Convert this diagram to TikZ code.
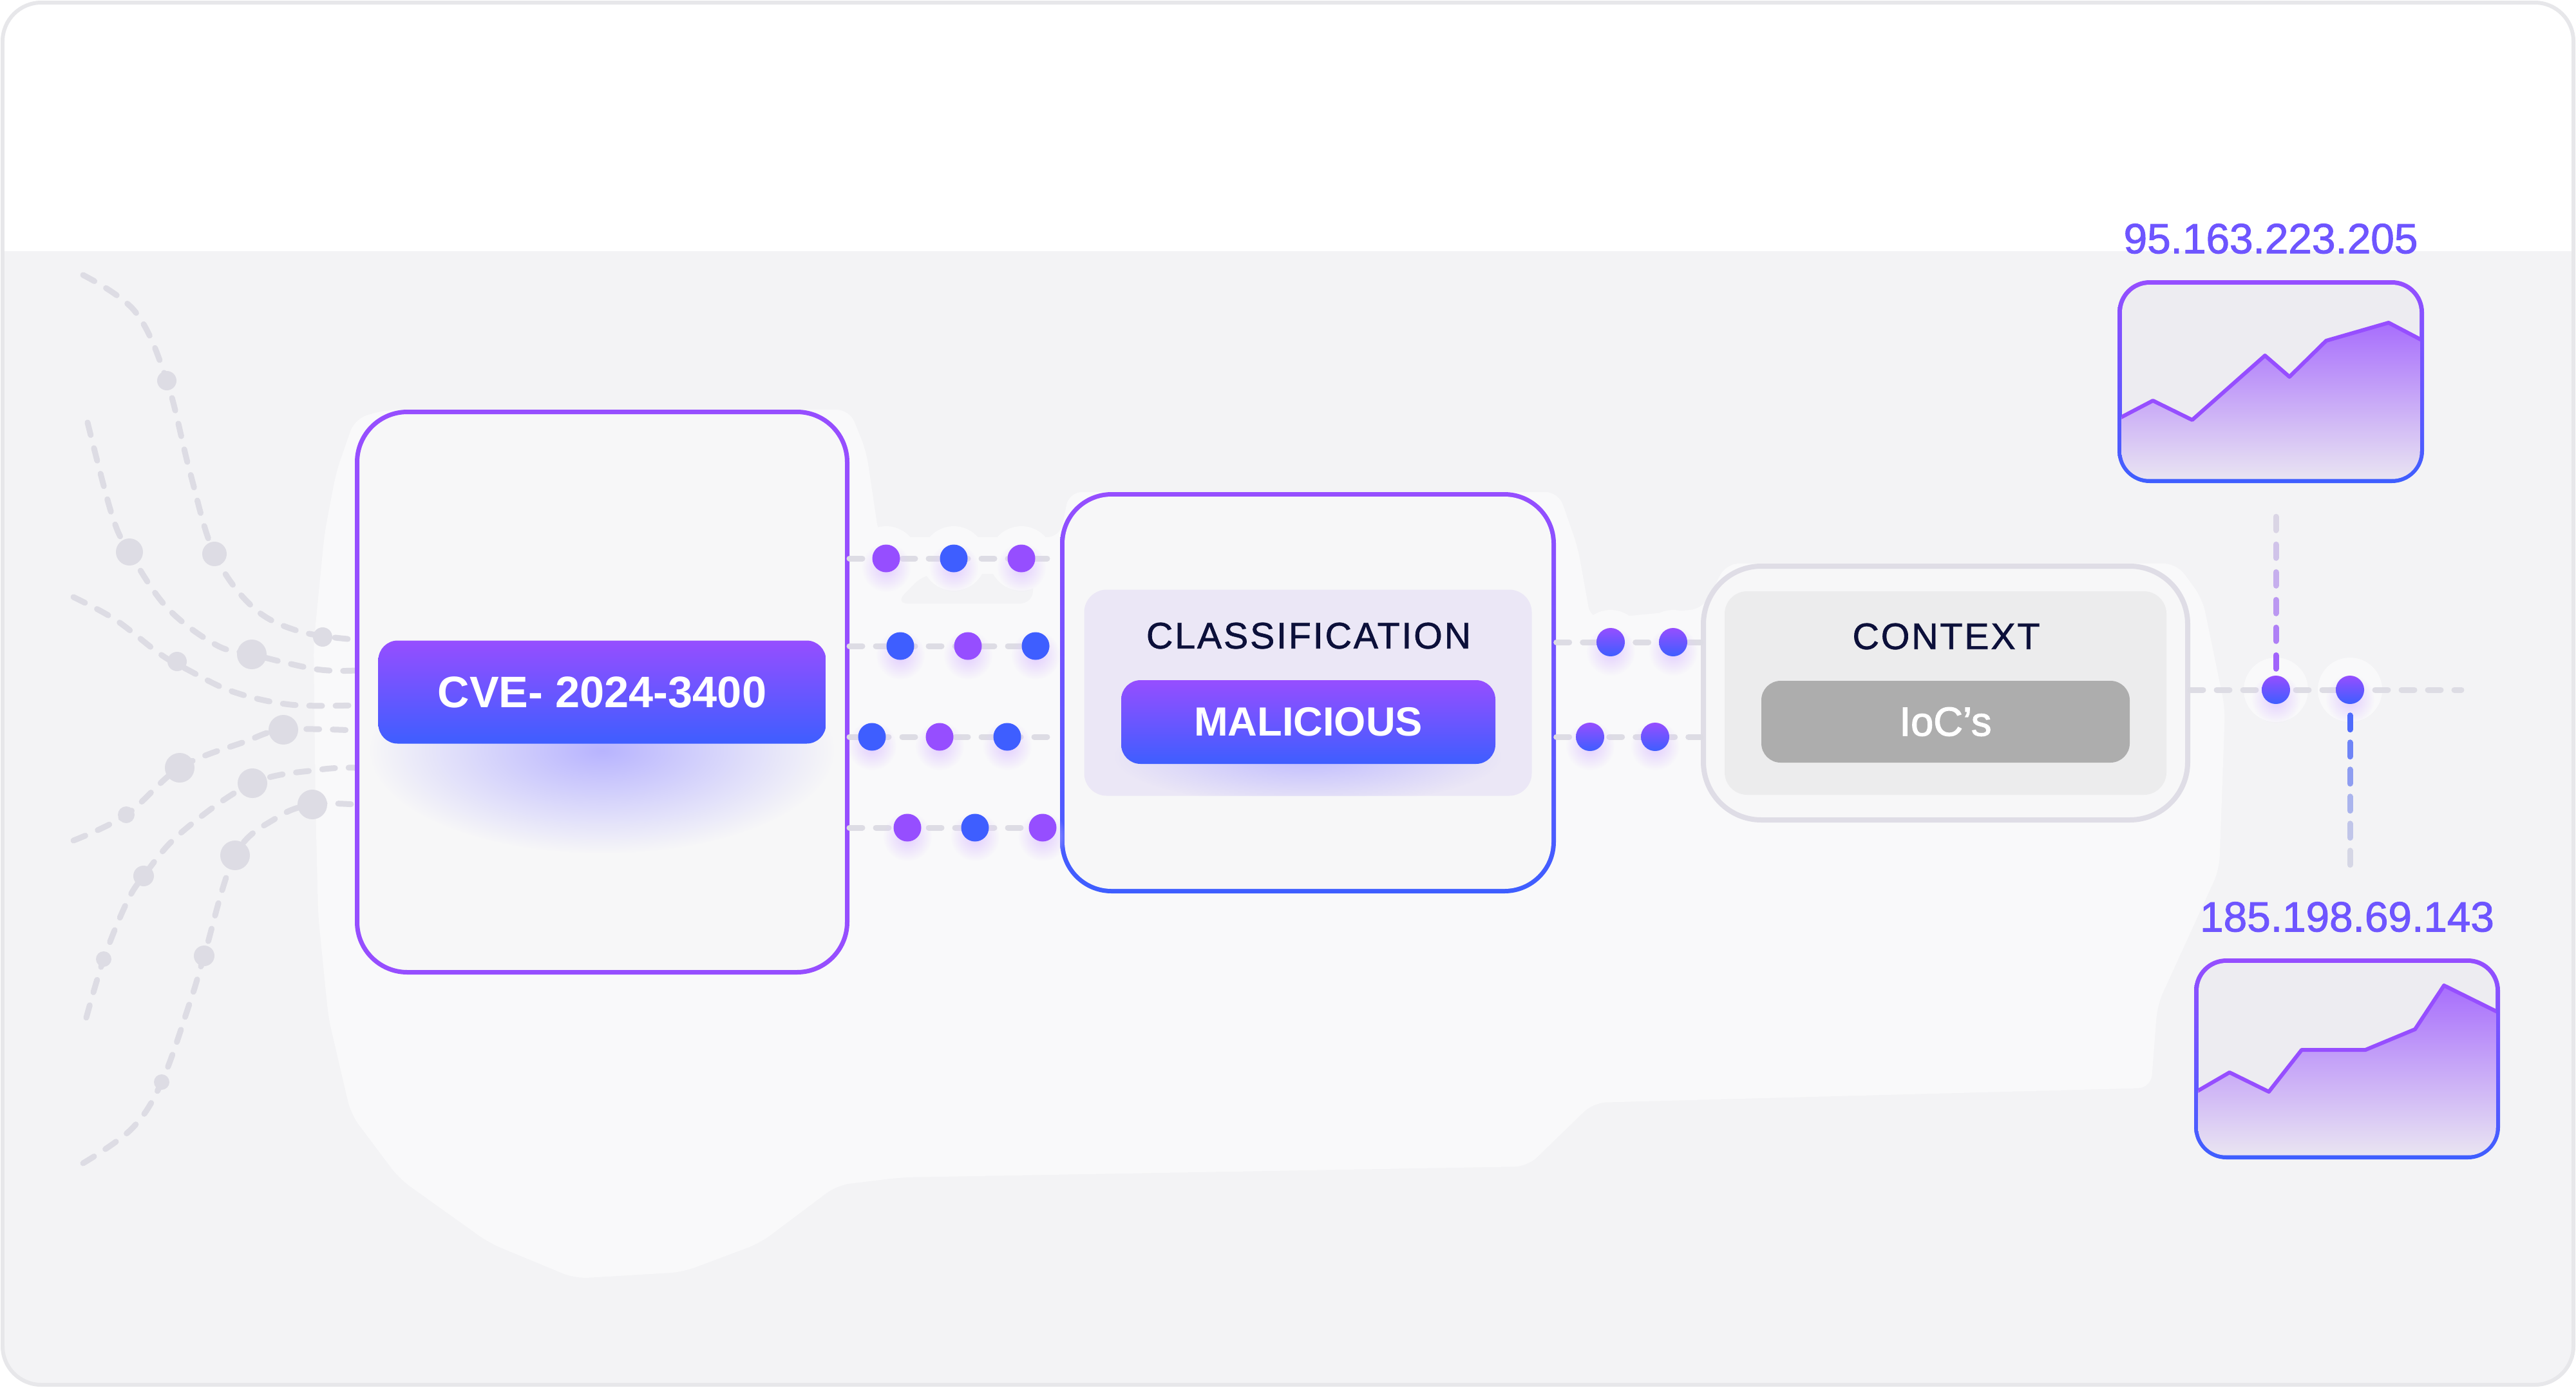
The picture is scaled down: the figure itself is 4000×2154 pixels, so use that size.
\documentclass[tikz,border=0pt]{standalone}
\usepackage{fontspec}
\setmainfont{Liberation Sans}
\usetikzlibrary{positioning, fadings}
\definecolor{vpurple}{RGB}{150,78,255}
\definecolor{vblue}{RGB}{62,94,255}
\definecolor{canvas}{RGB}{243,243,245}
\definecolor{framec}{RGB}{231,231,234}
\definecolor{glowc}{RGB}{249,249,250}
\definecolor{boxfill}{RGB}{247,247,248}
\definecolor{dashc}{RGB}{221,220,228}
\definecolor{panelv}{RGB}{235,231,246}
\definecolor{panelg}{RGB}{236,236,237}
\definecolor{iocgray}{RGB}{173,173,173}
\definecolor{ctxline}{RGB}{223,221,230}
\definecolor{navy}{RGB}{12,16,58}
\definecolor{chartbg}{RGB}{237,236,241}
\tikzfading[name=softglow, inner color=transparent!0, outer color=transparent!100]
\pgfdeclarelayer{back}
\pgfsetlayers{back,main}

\begin{document}
\begin{tikzpicture}[
      x = 0.1mm, y = -0.1mm,
      stage/.style={
        rounded corners = 0.78cm,
        fill = boxfill,
        draw = vpurple,
        line width = 0.07cm,
        inner sep = 0pt,
      },
      rim/.style={
        rounded corners = 0.8cm,
        top color = vpurple,
        bottom color = vblue,
        inner sep = 0pt,
      },
      panel/.style={
        rounded corners = 0.35cm,
        inner sep = 0pt,
      },
      btn/.style={
        rounded corners = 0.3cm,
        text = white,
        inner sep = 0pt,
      },
      vbtn/.style={btn, top color = vpurple, bottom color = vblue},
      link/.style={
        dashc,
        line width = 0.09cm,
        line cap = round,
        dash pattern = on 0.2cm off 0.21cm,
      },
      tick/.style={line width = 0.09cm, line cap = round},
      glow/.style={fill = vpurple!28, path fading = softglow},
      pdot/.style={circle, fill = vpurple, minimum size = 0.43cm, inner sep = 0pt},
      bdot/.style={circle, fill = vblue, minimum size = 0.43cm, inner sep = 0pt},
      gdot/.style={circle, top color = vpurple, bottom color = vblue, minimum size = 0.44cm, inner sep = 0pt},
      fdot/.style={circle, fill = dashc, inner sep = 0pt},
      ttl/.style={text = navy, font = \fontsize{16.3}{18}\selectfont\addfontfeatures{LetterSpace=5, FakeBold=1.2}},
      ip/.style={text = vpurple!55!vblue, font = \fontsize{18.7}{22}\selectfont\addfontfeatures{FakeBold=1.5}},
    ]
    \useasboundingbox (0,0) rectangle (4000,2154);
    \begin{pgfonlayer}{back}
      \begin{scope}
        \clip[rounded corners = 0.6cm] (4,4) rectangle (3996,2150);
        \fill[white] (0,0) rectangle (4000,390);
        \fill[canvas] (0,390) rectangle (4000,2154);
      \end{scope}
      \fill[glowc, rounded corners = 0.2cm]
        (600,636) -- (551,650) -- (522,733) -- (504,828) -- (487,1000)
        -- (490,1250) -- (494,1420) -- (510,1580) -- (545,1730) -- (620,1830)
        -- (760,1930) -- (893,1985) -- (1060,1975) -- (1180,1930)
        -- (1300,1840) -- (1400,1828) -- (2372,1811) -- (2474,1712)
        -- (3340,1689) -- (3350,1560) -- (3446,1350) -- (3455,1100)
        -- (3420,930) -- (3380,875) -- (2680,875) -- (2645,945)
        -- (2470,962) -- (2450,850) -- (2420,764) -- (1660,764)
        -- (1646,834) -- (1365,834) -- (1345,700) -- (1319,636) -- cycle;
      \fill[canvas, rounded corners = 0.2cm]
        (1435,891) -- (1604,891) -- (1604,937) -- (1390,937) -- cycle;
    \end{pgfonlayer}
    \draw[framec, line width = 0.06cm, rounded corners = 0.6cm] (4,4) rectangle (3996,2150);

    \draw[link] plot[smooth, tension = 0.6] coordinates
      {(129,427) (210,484) (259,591) (295,733) (333,860) (393,943) (464,980) (551,993)};
    \draw[link] plot[smooth, tension = 0.6] coordinates
      {(136,656) (174,800) (201,857) (259,943) (335,1001) (391,1016) (491,1039) (551,1041)};
    \draw[link] plot[smooth, tension = 0.6] coordinates
      {(114,927) (179,962) (248,1015) (290,1039) (362,1074) (451,1094) (551,1095)};
    \draw[link] plot[smooth, tension = 0.6] coordinates
      {(114,1305) (196,1265) (279,1192) (379,1152) (440,1133) (551,1134)};
    \draw[link] plot[smooth, tension = 0.6] coordinates
      {(134,1580) (161,1489) (196,1403) (223,1360) (281,1293) (392,1216) (496,1195) (551,1192)};
    \draw[link] plot[smooth, tension = 0.6] coordinates
      {(129,1806) (205,1752) (251,1680) (295,1556) (317,1484) (365,1328) (429,1270) (485,1249) (551,1249)};
    \foreach \x/\y/\r in {259/591/15, 333/860/19, 501/989/15, 201/857/21, 391/1016/23,
        275/1027/15, 196/1265/13, 279/1192/23, 440/1133/23, 161/1489/12, 223/1360/16,
        392/1216/23, 251/1680/12, 317/1484/16, 365/1328/23, 485/1249/23}
      \node[fdot, minimum size = {2*\r*0.1mm}] (f\x) at (\x,\y) {};

    \node[stage, minimum width = 7.61cm, minimum height = 8.70cm] (cvebox) at (935,1074.5) {};
    \fill[vblue!60!vpurple!45, path fading = softglow] (935,1165) ellipse (3.6cm and 1.6cm);
    \node[vbtn, minimum width = 6.95cm, minimum height = 1.6cm,
      font = \fontsize{19.5}{22}\selectfont\bfseries] (cvebtn) at (cvebox) {CVE- 2024-3400};

    \node[rim, minimum width = 7.70cm, minimum height = 6.23cm] (classrim) at (2031,1075.5) {};
    \node[stage, draw = none, rounded corners = 0.73cm,
      minimum width = 7.56cm, minimum height = 6.09cm] (classbox) at (classrim) {};
    \node[panel, fill = panelv, minimum width = 6.95cm, minimum height = 3.2cm] (classpanel) at (classbox) {};
    \node[ttl] (classttl) at (2032,987) {CLASSIFICATION};
    \begin{scope}
      \clip[rounded corners = 0.35cm] (classpanel.south west) rectangle (classpanel.north east);
      \fill[vblue!60!vpurple!40, path fading = softglow] (2031,1175) ellipse (3.0cm and 0.75cm);
    \end{scope}
    \node[vbtn, minimum width = 5.81cm, minimum height = 1.3cm,
      font = \fontsize{18}{22}\selectfont\bfseries] (malbtn) at (2031.5,1121) {MALICIOUS};

    \node[stage, draw = ctxline, line width = 0.08cm, rounded corners = 0.9cm,
      minimum width = 7.52cm, minimum height = 3.94cm] (ctxbox) at (3021,1076) {};
    \node[panel, fill = panelg, minimum width = 6.86cm, minimum height = 3.16cm] (ctxpanel) at (ctxbox) {};
    \node[ttl] (ctxttl) at (3022,988) {CONTEXT};
    \node[btn, fill = iocgray, minimum width = 5.72cm, minimum height = 1.27cm,
      font = \fontsize{18}{22}\selectfont\addfontfeatures{FakeBold=2}] (iocbtn) at (3021,1120.5) {IoC’s};

    \coordinate (rowa) at (0,867);
    \coordinate (rowb) at (0,1003);
    \coordinate (rowc) at (0,1144);
    \coordinate (rowd) at (0,1285);
    \coordinate (rowe) at (0,997);
    \coordinate (feedend) at (3822,1071);
    \foreach \r in {rowa, rowb, rowc, rowd}
      \draw[link] (cvebox.east |- \r) -- (classrim.west |- \r);
    \foreach \r in {rowe, rowc}
      \draw[link] (classrim.east |- \r) -- (ctxbox.west |- \r);
    \draw[link] (ctxbox.east |- feedend) -- (feedend);

    \foreach \x/\y/\s in {1376/867/pdot, 1481/867/bdot, 1586/867/pdot,
        1398/1003/bdot, 1503/1003/pdot, 1608/1003/bdot,
        1354/1144/bdot, 1459/1144/pdot, 1564/1144/bdot,
        1409/1285/pdot, 1514/1285/bdot, 1619/1285/pdot,
        2501/997/gdot, 2598/997/gdot, 2469/1144/gdot, 2570/1144/gdot,
        3534/1071/gdot, 3649/1071/gdot} {
      \begin{pgfonlayer}{back}
        \fill[glowc] (\x,\y) circle (0.5cm);
      \end{pgfonlayer}
      \fill[glow] (\x,{\y+14}) circle (0.38cm);
      \node[\s] (d\x) at (\x,\y) {};
    }
    \foreach \k/\c in {0/85, 1/65, 2/48, 3/32, 4/18, 5/5}
      \draw[tick, vpurple!\c!dashc]
        ([yshift = {(10+43*\k)*0.1mm}]d3534.north) -- ([yshift = {(31+43*\k)*0.1mm}]d3534.north);
    \foreach \k/\c in {0/90, 1/70, 2/50, 3/32, 4/18, 5/5}
      \draw[tick, vblue!\c!dashc]
        ([yshift = {-(17+42*\k)*0.1mm}]d3649.south) -- ([yshift = {-(39+42*\k)*0.1mm}]d3649.south);

    \node[rim, rounded corners = 0.5cm, minimum width = 4.76cm, minimum height = 3.15cm] (chartone) at (3526,592.5) {};
    \node[panel, fill = chartbg, rounded corners = 0.43cm,
      minimum width = 4.62cm, minimum height = 3.01cm] (chartonein) at (chartone) {};
    \begin{scope}
      \clip[rounded corners = 0.43cm] (chartonein.south west) rectangle (chartonein.north east);
      \shade[top color = vpurple!80!chartbg, bottom color = chartbg]
        (3280,655) -- (3343,622) -- (3404,652) -- (3517,552) -- (3555,585) -- (3612,529)
        -- (3709,501) -- (3770,533) -- (3770,760) -- (3280,760) -- cycle;
      \draw[vpurple, line width = 0.06cm, line join = round]
        (3280,655) -- (3343,622) -- (3404,652) -- (3517,552) -- (3555,585) -- (3612,529)
        -- (3709,501) -- (3770,533);
    \end{scope}
    \node[ip, above = 0.28cm of chartone] (ipone) {95.163.223.205};

    \node[rim, rounded corners = 0.5cm, minimum width = 4.75cm, minimum height = 3.12cm] (charttwo) at (3644.5,1644) {};
    \node[panel, fill = chartbg, rounded corners = 0.43cm,
      minimum width = 4.61cm, minimum height = 2.98cm] (charttwoin) at (charttwo) {};
    \begin{scope}
      \clip[rounded corners = 0.43cm] (charttwoin.south west) rectangle (charttwoin.north east);
      \shade[top color = vpurple!80!chartbg, bottom color = chartbg]
        (3400,1701) -- (3462,1665) -- (3523,1695) -- (3574,1630) -- (3673,1630) -- (3750,1598)
        -- (3795,1530) -- (3890,1577) -- (3890,1810) -- (3400,1810) -- cycle;
      \draw[vpurple, line width = 0.06cm, line join = round]
        (3400,1701) -- (3462,1665) -- (3523,1695) -- (3574,1630) -- (3673,1630) -- (3750,1598)
        -- (3795,1530) -- (3890,1577);
    \end{scope}
    \node[ip, above = 0.28cm of charttwo] (iptwo) {185.198.69.143};
  \end{tikzpicture}
\end{document}
